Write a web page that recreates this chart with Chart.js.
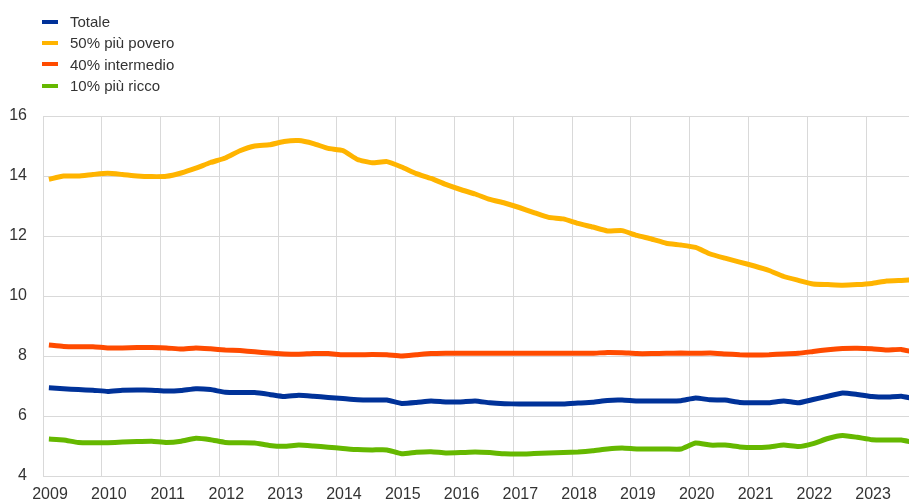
<!DOCTYPE html>
<html>
<head>
<meta charset="utf-8">
<script src="https://cdn.jsdelivr.net/npm/chart.js@4/dist/chart.umd.min.js"></script>
<style>
  body { margin: 0; background: #fff; font-family: "Liberation Sans", Arial, sans-serif; }
  #wrap { position: relative; width: 909px; height: 502px; }
  #legend { position: absolute; left: 42px; top: 11px; }
  .item { height: 21.3px; display: flex; align-items: center; font-size: 15px; color: #333; }
  .item i { display: inline-block; width: 16px; height: 4px; margin-right: 12px; }
</style>
</head>
<body>
<div id="wrap">
  <canvas id="chart" width="909" height="502"></canvas>
  <div id="legend"></div>
</div>
<script>
// quarterly observations, first one shortly after the start of 2009
var startYear = 2009.1;
var years = [2009,2010,2011,2012,2013,2014,2015,2016,2017,2018,2019,2020,2021,2022,2023];
var yTicks = [4,6,8,10,12,14,16];

var totale = [6.94,6.91,6.88,6.86,6.82,6.86,6.87,6.86,6.83,6.85,6.91,6.88,6.79,6.78,6.78,6.72,6.65,6.69,6.66,6.62,
  6.58,6.54,6.53,6.53,6.42,6.45,6.50,6.47,6.47,6.50,6.44,6.41,6.40,6.40,6.40,6.40,6.43,6.46,6.52,6.53,
  6.50,6.50,6.50,6.51,6.60,6.54,6.53,6.45,6.44,6.44,6.50,6.44,6.55,6.66,6.77,6.72,6.65,6.63,6.66,6.56];
var povero = [13.89,14.00,14.00,14.05,14.09,14.05,14.00,13.98,13.99,14.10,14.26,14.45,14.60,14.84,15.00,15.04,15.15,15.18,15.08,14.92,
  14.85,14.55,14.44,14.48,14.30,14.08,13.92,13.72,13.55,13.40,13.22,13.10,12.95,12.78,12.62,12.57,12.42,12.30,12.17,12.18,
  12.02,11.90,11.76,11.70,11.62,11.40,11.26,11.13,11.00,10.85,10.65,10.52,10.40,10.38,10.36,10.38,10.42,10.50,10.52,10.54];
var intermedio = [8.37,8.32,8.31,8.31,8.27,8.27,8.28,8.28,8.27,8.23,8.27,8.24,8.20,8.18,8.14,8.10,8.07,8.06,8.08,8.08,
  8.04,8.04,8.05,8.04,8.00,8.04,8.08,8.09,8.09,8.09,8.09,8.09,8.09,8.09,8.09,8.09,8.09,8.09,8.12,8.11,
  8.08,8.08,8.09,8.10,8.09,8.10,8.07,8.04,8.03,8.04,8.07,8.09,8.15,8.21,8.25,8.26,8.24,8.20,8.22,8.11];
var ricco = [5.23,5.20,5.12,5.11,5.11,5.13,5.15,5.16,5.12,5.16,5.26,5.21,5.12,5.11,5.10,5.02,4.99,5.03,5.00,4.96,
  4.92,4.88,4.87,4.87,4.74,4.79,4.81,4.77,4.78,4.80,4.78,4.74,4.73,4.75,4.77,4.78,4.80,4.84,4.90,4.93,
  4.90,4.90,4.90,4.90,5.10,5.03,5.03,4.97,4.95,4.97,5.03,4.98,5.08,5.25,5.35,5.29,5.21,5.20,5.20,5.10];

var series = [
  {label: 'Totale', data: totale, color: '#003299'},
  {label: '50% più povero', data: povero, color: '#ffb400'},
  {label: '40% intermedio', data: intermedio, color: '#ff4b00'},
  {label: '10% più ricco', data: ricco, color: '#65b800'}
];

function toPoints(arr) {
  return arr.map((v, i) => ({x: startYear + i * 0.25, y: v}));
}

// legend drawn as plain html, one row per series
var legend = document.getElementById('legend');
series.forEach(s => {
  legend.innerHTML += `<div class="item"><i style="background:${s.color}"></i>${s.label}</div>`;
});

// draw the last-listed series first so the order on top matches the legend
var datasets = series.slice().reverse().map(s => ({
  label: s.label,
  data: toPoints(s.data),
  borderColor: s.color,
  backgroundColor: s.color,
  borderWidth: 5,
  pointRadius: 0,
  tension: 0.15,
  fill: false
}));

var gridColor = '#d9d9d9';
new Chart(document.getElementById('chart'), {
  type: 'line',
  data: {datasets: datasets},
  options: {
    responsive: false,
    animation: false,
    layout: {padding: {top: 116, right: 0, left: 0, bottom: 0}},
    plugins: {legend: {display: false}, tooltip: {enabled: false}},
    scales: {
      x: {
        type: 'linear',
        min: 2009,
        max: 2023.73,
        afterBuildTicks: axis => { axis.ticks = years.map(v => ({value: v})); },
        afterFit: axis => { axis.height = 26; },
        grid: {color: gridColor, drawTicks: false},
        border: {display: false},
        ticks: {
          padding: 9,
          labelOffset: 7,
          maxRotation: 0,
          autoSkip: false,
          color: '#333',
          font: {family: '"Liberation Sans", Arial, sans-serif', size: 16},
          callback: v => String(v)
        }
      },
      y: {
        min: 4,
        max: 16,
        afterBuildTicks: axis => { axis.ticks = yTicks.map(v => ({value: v})); },
        afterFit: axis => { axis.width = 43; },
        grid: {color: gridColor, drawTicks: false},
        border: {display: false},
        ticks: {
          padding: 16,
          color: '#333',
          font: {family: '"Liberation Sans", Arial, sans-serif', size: 16}
        }
      }
    }
  }
});
</script>
</body>
</html>
